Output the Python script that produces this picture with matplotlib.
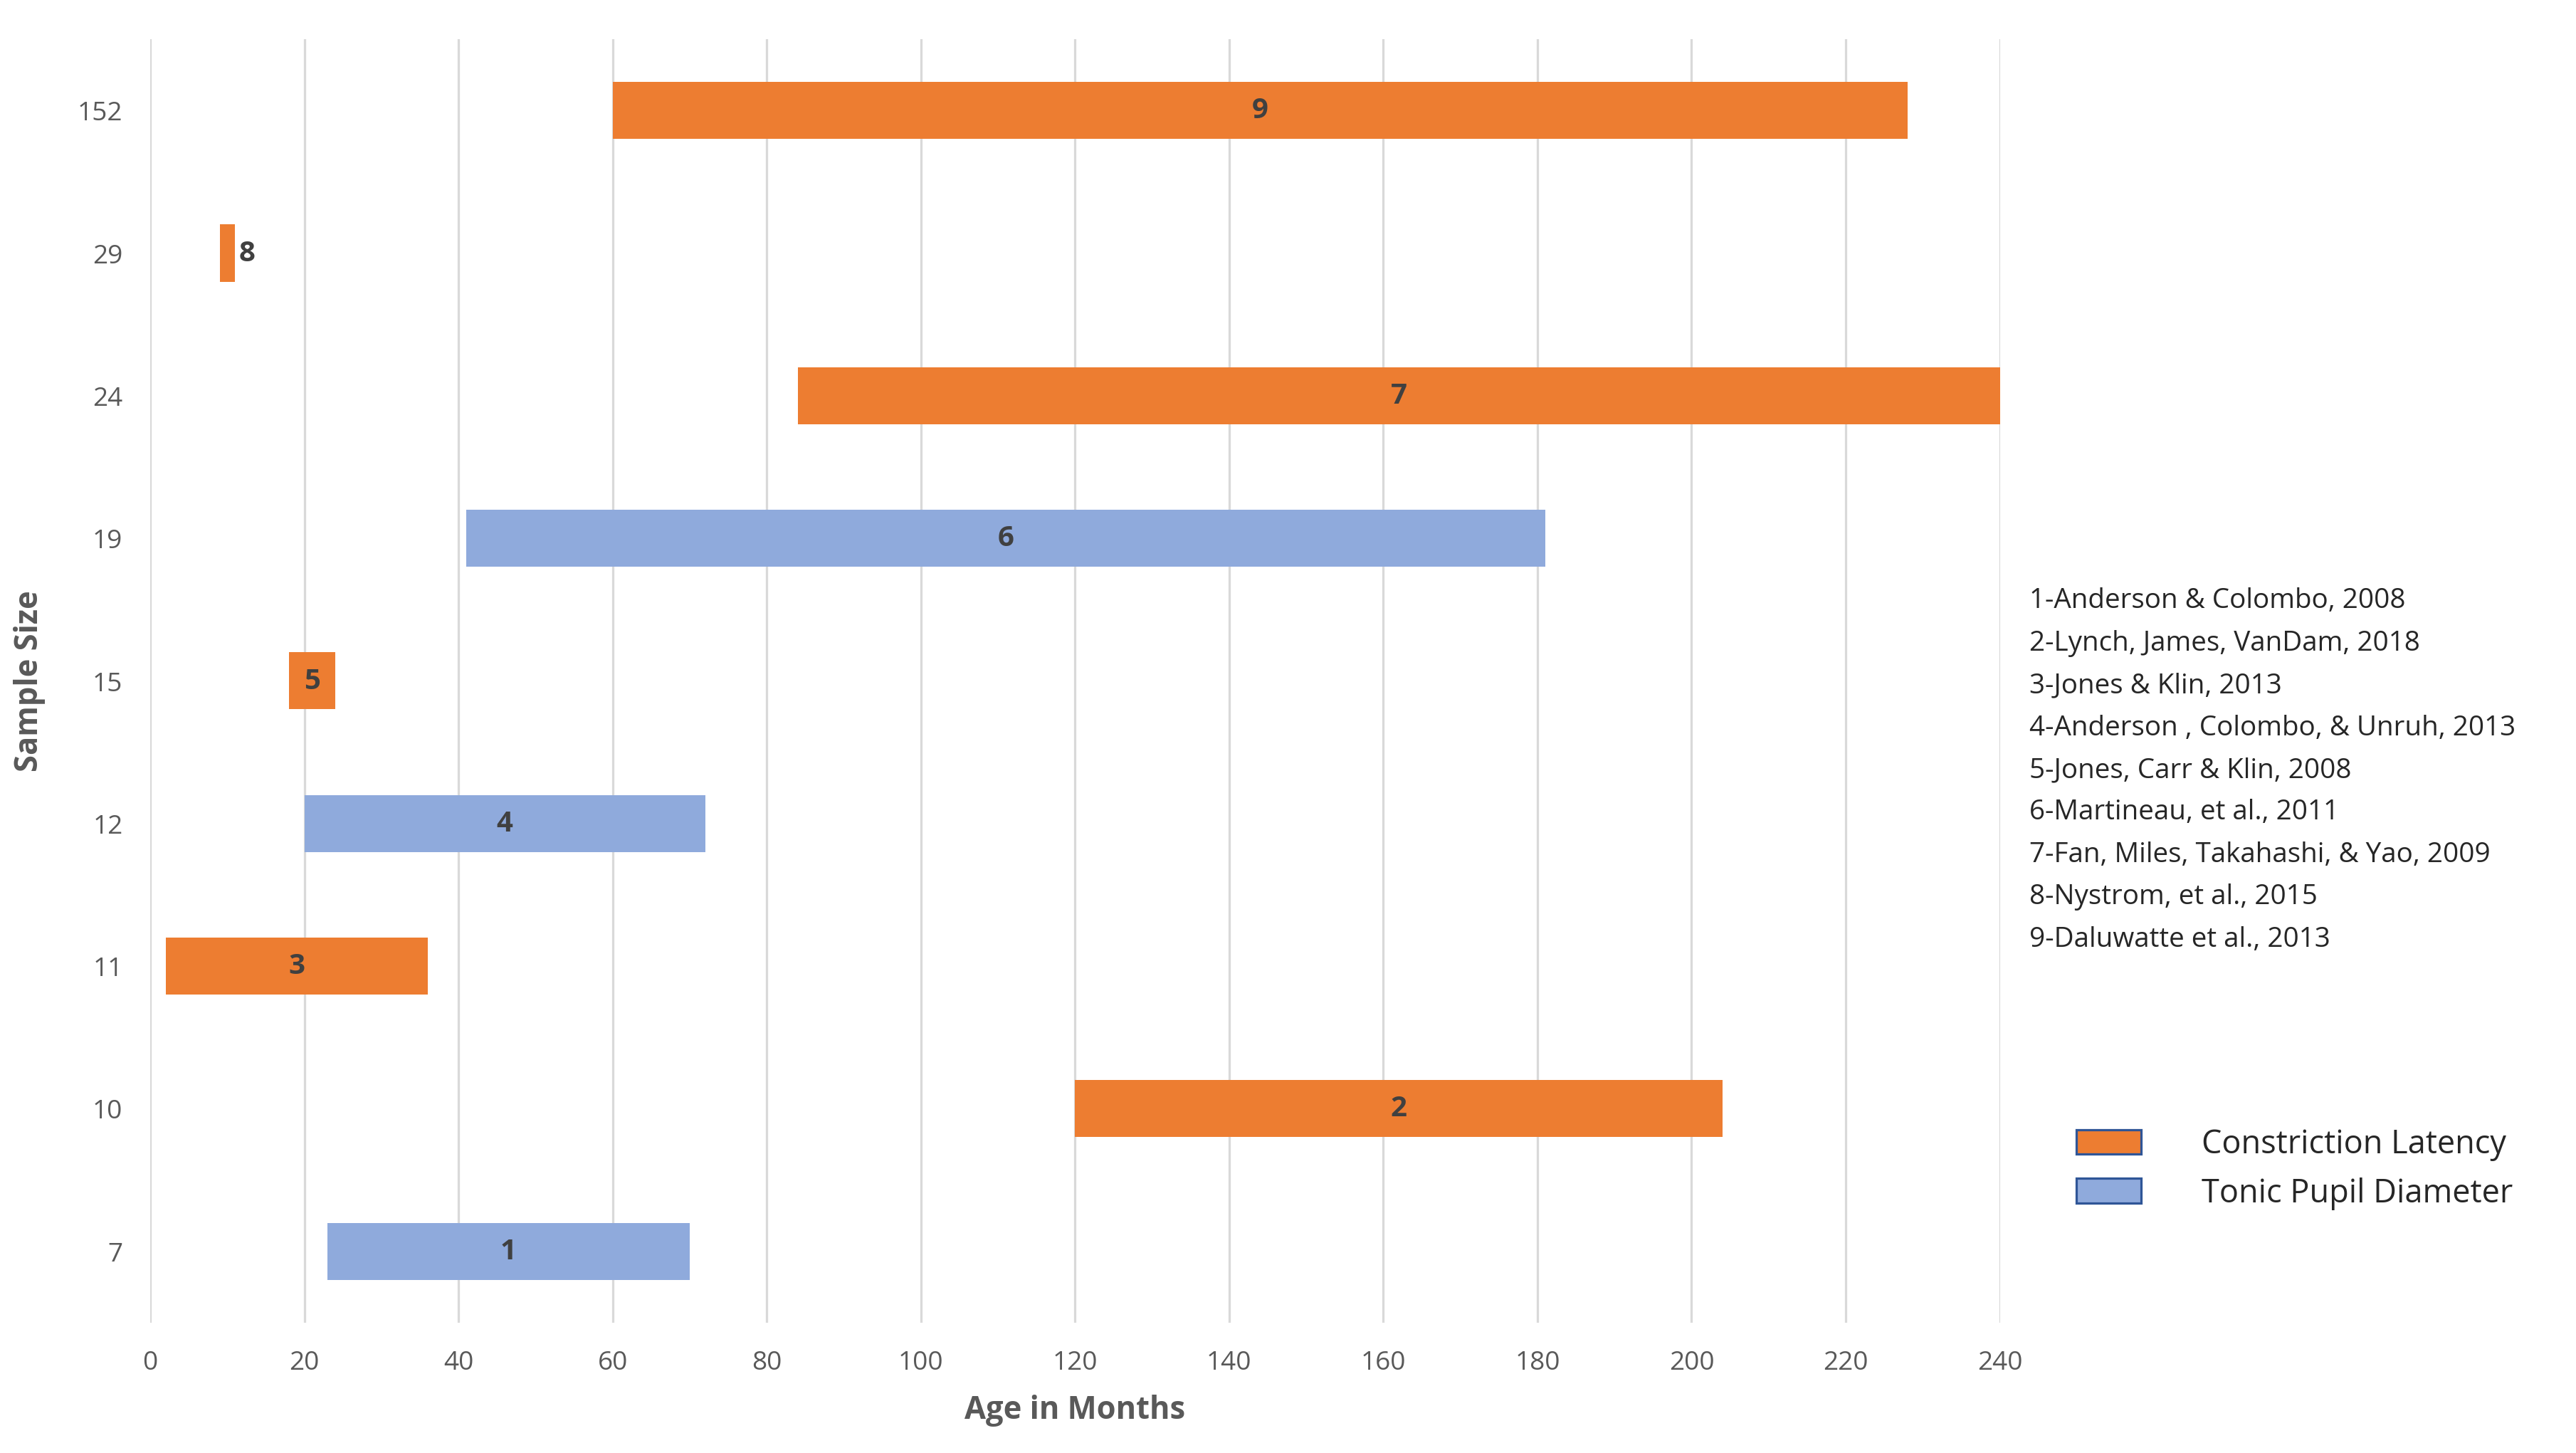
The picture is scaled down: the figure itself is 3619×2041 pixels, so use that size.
import matplotlib
matplotlib.use("Agg")
import matplotlib.pyplot as plt
from matplotlib.patches import Patch

samples = ["7", "10", "11", "12", "15", "19", "24", "29", "152"]
starts = [23, 120, 2, 20, 18, 41, 84, 9, 60]
ends = [70, 204, 36, 72, 24, 181, 240, 11, 228]
kinds = ["T", "C", "C", "T", "C", "T", "C", "C", "C"]
ids = ["1", "2", "3", "4", "5", "6", "7", "8", "9"]
studies = ["1-Anderson & Colombo, 2008", "2-Lynch, James, VanDam, 2018", "3-Jones & Klin, 2013",
           "4-Anderson , Colombo, & Unruh, 2013", "5-Jones, Carr & Klin, 2008", "6-Martineau, et al., 2011",
           "7-Fan, Miles, Takahashi, & Yao, 2009", "8-Nystrom, et al., 2015", "9-Daluwatte et al., 2013"]
xticks = list(range(0, 241, 20))

ORANGE = "#ED7D31"; BLUE = "#8FAADC"
colors = {"C": ORANGE, "T": BLUE}
plt.rcParams['font.family'] = ['Open Sans', 'DejaVu Sans']
fig = plt.figure(figsize=(15.6, 8.8), dpi=232)
ax = fig.add_axes([91/1560, 1-801/880, (1211-91)/1560, (801-24)/880])
y = list(range(len(samples)))
widths = [e - s for s, e in zip(starts, ends)]
ax.barh(y, widths, left=starts, height=0.4, color=[colors[k] for k in kinds], zorder=3)
for yi, s, e, lab in zip(y, starts, ends, ids):
    if e - s < 5:
        ax.text(e + 0.5, yi, lab, ha="left", va="center", fontsize=12.5, fontweight="bold", color="#404040", zorder=4)
    else:
        ax.text((s + e) / 2, yi, lab, ha="center", va="center", fontsize=12.5, fontweight="bold", color="#404040", zorder=4)
ax.set_xlim(0, 240)
ax.set_ylim(-0.5, len(samples) - 0.5)
ax.set_xticks(xticks)
ax.set_yticks(y)
ax.set_yticklabels(samples)
ax.grid(axis="x", color="#D9D9D9", lw=1, zorder=0)
for sp in ax.spines.values():
    sp.set_visible(False)
ax.tick_params(length=0, labelsize=11.5, colors="#595959", pad=12)
ax.set_xlabel("Age in Months", fontsize=13.5, fontweight="bold", color="#595959", labelpad=8)
ax.set_ylabel("Sample Size", fontsize=13.5, fontweight="bold", color="#595959", labelpad=14)

for i, s in enumerate(studies):
    fig.text(1229/1560, 1 - (364 + i*25.6)/880, s, fontsize=12, color="#262626", va="center", ha="left")
handles = [Patch(facecolor=ORANGE, edgecolor="#2F5597", label="Constriction Latency"),
           Patch(facecolor=BLUE, edgecolor="#2F5597", label="Tonic Pupil Diameter")]
fig.legend(handles=handles, loc="center left", bbox_to_anchor=(1240/1560, 1-708/880), frameon=False,
           fontsize=14, handlelength=2.0, handleheight=0.8, handletextpad=1.9, labelspacing=0.5,
           labelcolor="#262626")
fig.savefig("out.png", dpi=232)
